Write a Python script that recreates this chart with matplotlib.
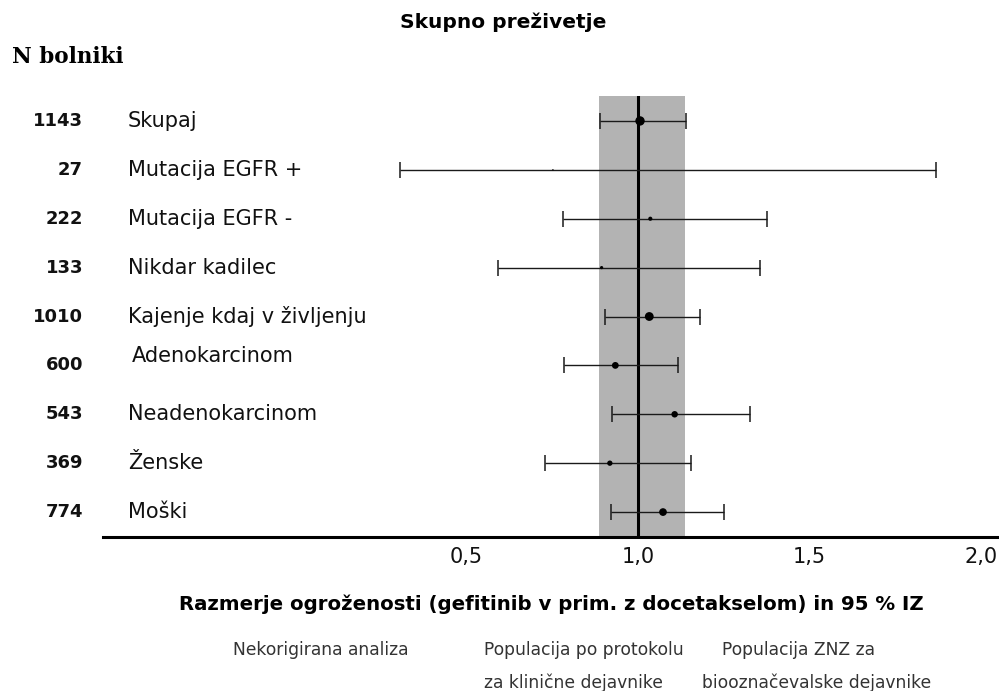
import matplotlib
matplotlib.use("Agg")
import matplotlib.pyplot as plt
from matplotlib.transforms import blended_transform_factory, offset_copy
import numpy as np

# ---- data ----
n_patients = [1143, 27, 222, 133, 1010, 600, 543, 369, 774]
subgroups = ["Skupaj", "Mutacija EGFR +", "Mutacija EGFR -", "Nikdar kadilec",
             "Kajenje kdaj v življenju", "Adenokarcinom", "Neadenokarcinom",
             "Ženske", "Moški"]
hr = [1.006, 0.752, 1.036, 0.894, 1.033, 0.934, 1.107, 0.918, 1.073]
ci_low = [0.888, 0.306, 0.781, 0.591, 0.903, 0.784, 0.924, 0.730, 0.920]
ci_high = [1.141, 1.868, 1.377, 1.355, 1.181, 1.117, 1.328, 1.156, 1.250]
overall_ci = [0.886, 1.137]
xticks = [0.5, 1.0, 1.5, 2.0]
xtick_labels = ["0,5", "1,0", "1,5", "2,0"]

title = "Skupno preživetje"
n_header = "N bolniki"
xlabel = "Razmerje ogroženosti (gefitinib v prim. z docetakselom) in 95 % IZ"
notes = [("Nekorigirana analiza", ""),
         ("Populacija po protokolu", "za klinične dejavnike"),
         ("Populacija ZNZ za", "biooznačevalske dejavnike")]

W, H = 999, 691
fig = plt.figure(figsize=(W / 100, H / 100), dpi=100)
plt.rcParams['font.family'] = ['DejaVu Sans']

ax_left, ax_right, ax_bot, ax_top = 103, 997, 537, 96
ax = fig.add_axes([ax_left / W, 1 - ax_bot / H, (ax_right - ax_left) / W,
                   (ax_bot - ax_top) / H])

rows = np.arange(len(subgroups))
ax.set_xlim(-0.560, 2.047)
ax.set_ylim(len(subgroups) - 0.49, -0.51)

ax.axvspan(overall_ci[0], overall_ci[1], color="#b3b3b3", lw=0, zorder=0)
ax.axvline(1.0, color="black", lw=2.2, zorder=2)

hr_a = np.array(hr)
ax.errorbar(hr_a, rows, xerr=[hr_a - np.array(ci_low), np.array(ci_high) - hr_a],
            fmt="none", ecolor="#1a1a1a", elinewidth=1.0, capsize=5.5,
            capthick=1.1, zorder=3)
ax.scatter(hr, rows, s=np.array(n_patients) * 0.04, color="black", zorder=4,
           linewidths=0)

for s in ["left", "right", "top"]:
    ax.spines[s].set_visible(False)
ax.spines["bottom"].set_linewidth(2.2)
ax.spines["bottom"].set_color("black")
ax.set_yticks([])
ax.set_xticks(xticks)
ax.set_xticklabels(xtick_labels, fontsize=15, color="#111111")
ax.tick_params(axis="x", length=0, pad=7)

# left-hand text columns
tr = blended_transform_factory(fig.transFigure, ax.transData)
for i, (n, lab) in enumerate(zip(n_patients, subgroups)):
    fig.text(83 / W, i, str(n), transform=tr, ha="right", va="center",
             fontsize=13, fontweight="bold", color="#111111")
    t = tr
    if lab == "Adenokarcinom":
        t = offset_copy(tr, fig=fig, x=3, y=7, units="points")
    fig.text(128 / W, i, lab, transform=t, ha="left", va="center",
             fontsize=15, color="#111111")

fig.text(503 / W, 1 - 22 / H, title, ha="center", va="center", fontsize=14.5,
         fontweight="bold")
fig.text(12 / W, 1 - 57 / H, n_header, ha="left", va="center", fontsize=15.5,
         fontweight="bold", family="DejaVu Serif")
fig.text(551 / W, 1 - 604 / H, xlabel, ha="center", va="center", fontsize=14.2,
         fontweight="bold")

note_x = [(233, 233), (484, 484), (722, 702)]
for (l1, l2), (x1, x2) in zip(notes, note_x):
    fig.text(x1 / W, 1 - 650 / H, l1, ha="left", va="center", fontsize=12.3,
             color="#333333")
    if l2:
        fig.text(x2 / W, 1 - 683 / H, l2, ha="left", va="center", fontsize=12.3,
                 color="#333333")

fig.savefig("out.png", dpi=100)
